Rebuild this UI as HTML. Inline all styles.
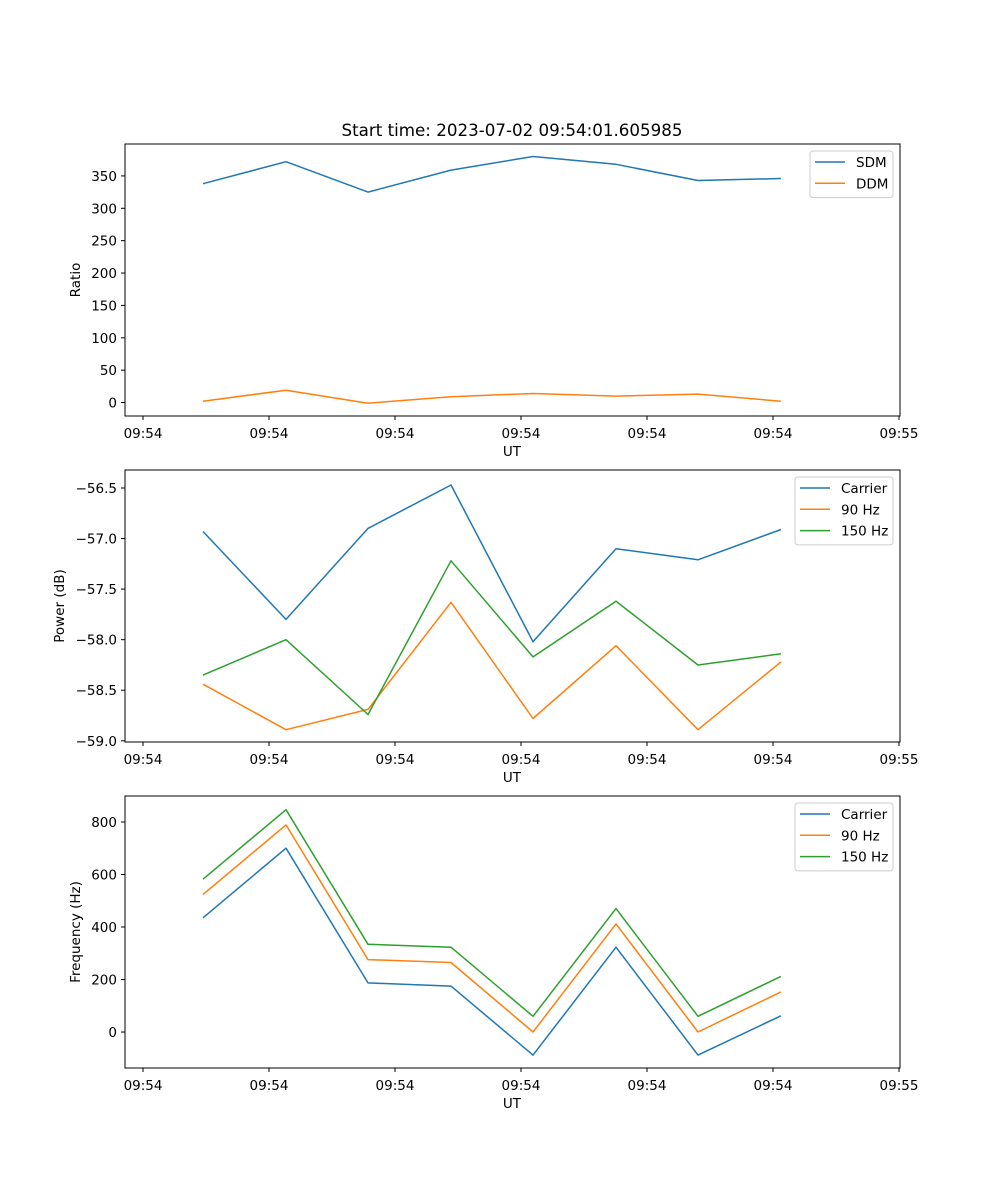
<!DOCTYPE html>
<html><head><meta charset="utf-8"><style>
body{margin:0;background:#fff;}
svg{display:block;font-family:"DejaVu Sans","Liberation Sans",sans-serif;}
</style></head><body>
<svg id="fig" width="1000" height="1200" xmlns="http://www.w3.org/2000/svg">
<rect width="1000" height="1200" fill="#fff"/>
<text x="512" y="136" text-anchor="middle" font-size="16.7">Start time: 2023-07-02 09:54:01.605985</text>
</svg>
<script>
// times in seconds after 09:54:00
const times = [4.76, 11.35, 17.86, 24.44, 30.95, 37.54, 44.05, 50.63];
const xTickValues = [0, 10, 20, 30, 40, 50, 60];
const xTickLabels = ["09:54","09:54","09:54","09:54","09:54","09:54","09:55"];
const sdm = [338, 372, 325, 359, 380, 368, 343, 346];
const ddm = [2, 19, -1, 9, 14, 10, 13, 2];
const pwrCarrier = [-56.93, -57.80, -56.90, -56.47, -58.02, -57.10, -57.21, -56.91];
const pwr90 = [-58.44, -58.89, -58.69, -57.63, -58.78, -58.06, -58.89, -58.22];
const pwr150 = [-58.35, -58.00, -58.74, -57.22, -58.17, -57.62, -58.25, -58.14];
const frqCarrier = [435, 700, 187, 175, -88, 323, -88, 62];
const frq90 = [524, 789, 276, 265, 0, 412, 0, 153];
const frq150 = [582, 847, 334, 323, 60, 470, 60, 212];
const ratioTicks = [0, 50, 100, 150, 200, 250, 300, 350];
const powerTicks = [-59.0, -58.5, -58.0, -57.5, -57.0, -56.5];
const freqTicks = [0, 200, 400, 600, 800];

const NS = "http://www.w3.org/2000/svg";
const fig = document.getElementById('fig');
const L = 125, R = 900;
const xDom = [-1.43, 60.08];
function xs(t){ return L + (t - xDom[0]) / (xDom[1] - xDom[0]) * (R - L); }
function mk(tag, attrs, parent){
  const e = document.createElementNS(NS, tag);
  for (const k in attrs) e.setAttribute(k, attrs[k]);
  (parent || fig).appendChild(e);
  return e;
}
const C = {blue:"#1f77b4", orange:"#ff7f0e", green:"#2ca02c"};

function panel(name, top, bottom, yDom, yTicks, fmt, ylabel, series, legend){
  const g = mk('g', {});
  
  
  const ys = v => bottom - (v - yDom[0]) / (yDom[1] - yDom[0]) * (bottom - top);
  series.forEach(s => {
    const pts = times.map((t, i) => xs(t).toFixed(1) + ',' + ys(s.vals[i]).toFixed(1)).join(' ');
    const pl = mk('polyline', {points: pts, fill: 'none', stroke: s.color, 'stroke-width': 1.5, 'stroke-linejoin': 'round'}, g);
    
    
  });
  const fr = mk('rect', {x: L, y: top, width: R - L, height: bottom - top, fill: 'none', stroke: '#000', 'stroke-width': 1}, g);
  
  
  xTickValues.forEach((t, i) => {
    const x = xs(t);
    mk('line', {x1: x, x2: x, y1: bottom, y2: bottom + 4, stroke: '#000'}, g);
    const tx = mk('text', {x: x, y: bottom + 22, 'text-anchor': 'middle', 'font-size': 13.5}, g);
    tx.textContent = xTickLabels[i];
    
    
  });
  yTicks.forEach(v => {
    const y = ys(v);
    mk('line', {x1: L - 4, x2: L, y1: y, y2: y, stroke: '#000'}, g);
    const tx = mk('text', {x: L - 8, y: y + 5, 'text-anchor': 'end', 'font-size': 13.5}, g);
    tx.textContent = fmt(v);
    
    
  });
  const xl = mk('text', {x: 512, y: bottom + 40, 'text-anchor': 'middle', 'font-size': 13.5}, g);
  xl.textContent = 'UT';
  
  
  const cy = (top + bottom) / 2;
  const yl = mk('text', {x: 0, y: 0, transform: `translate(${legend.ylx},${cy}) rotate(-90)`, 'text-anchor': 'middle', 'font-size': 13.5}, g);
  yl.textContent = ylabel;
  
  
  const lg = mk('g', {}, g);
  
  
  mk('rect', {x: legend.x, y: top + 7, width: 893 - legend.x, height: series.length * 21.3 + 4, rx: 3, fill: '#fff', stroke: '#ccc'}, lg);
  series.forEach((s, i) => {
    const y = top + 18 + i * 21.3;
    mk('line', {x1: legend.x + 5, x2: legend.x + 35, y1: y, y2: y, stroke: s.color, 'stroke-width': 1.5}, lg);
    const tx = mk('text', {x: legend.x + 46, y: y + 5, 'font-size': 13.5}, lg);
    tx.textContent = s.label;
    
    
  });
}
const minus = v => String(v).replace('-', '\u2212');
panel('ratio', 144, 416, [-20.8, 399.3], ratioTicks, v => minus(v), 'Ratio',
  [{key:'sdm', label:'SDM', vals:sdm, color:C.blue}, {key:'ddm', label:'DDM', vals:ddm, color:C.orange}], {x:810, ylx:80});
panel('power', 470, 742, [-59.012, -56.322], powerTicks, v => minus(v.toFixed(1)), 'Power (dB)',
  [{key:'carrier', label:'Carrier', vals:pwrCarrier, color:C.blue}, {key:'90hz', label:'90 Hz', vals:pwr90, color:C.orange}, {key:'150hz', label:'150 Hz', vals:pwr150, color:C.green}], {x:795, ylx:64});
panel('frequency', 796, 1068, [-137, 899], freqTicks, v => minus(v), 'Frequency (Hz)',
  [{key:'carrier', label:'Carrier', vals:frqCarrier, color:C.blue}, {key:'90hz', label:'90 Hz', vals:frq90, color:C.orange}, {key:'150hz', label:'150 Hz', vals:frq150, color:C.green}], {x:795, ylx:80});
</script>
</body></html>
